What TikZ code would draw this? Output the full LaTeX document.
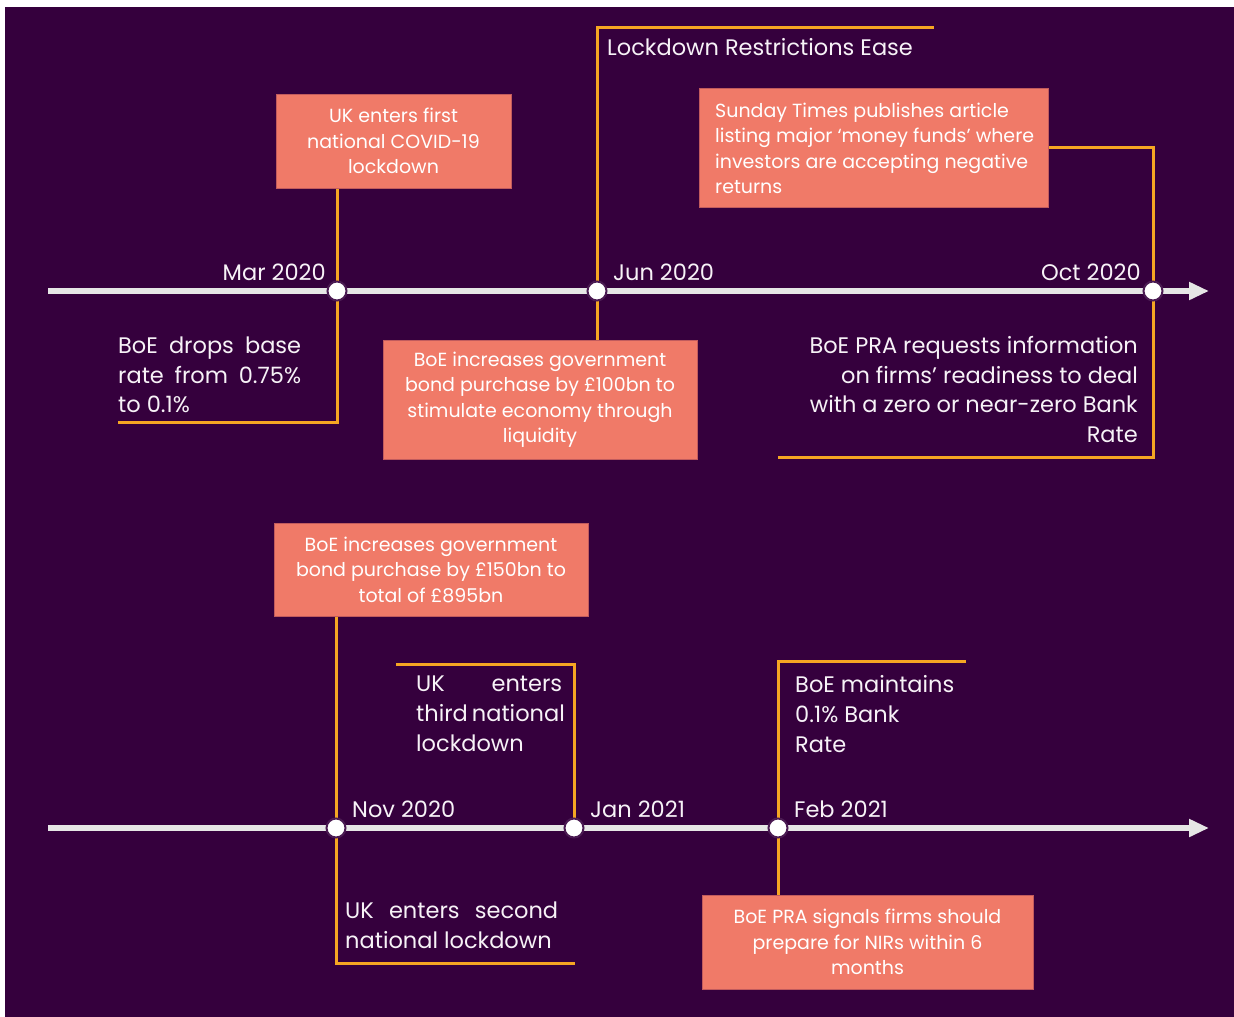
\documentclass[tikz,border=0pt]{standalone}
\usepackage{fontspec}
\setmainfont{Poppins}
\usetikzlibrary{arrows.meta}
\definecolor{bg}{HTML}{35003D}
\definecolor{salmon}{HTML}{F07A68}
\definecolor{amber}{HTML}{F5A623}
\definecolor{rail}{HTML}{E6E6E6}
\definecolor{ring}{HTML}{4A1A52}
\definecolor{txt}{HTML}{F7F2F7}
\begin{document}
\begin{tikzpicture}[x=1pt,y=-1pt,
  evbox/.style={fill=salmon, draw=salmon!75!bg, line width=1pt, text=white,
    font=\fontsize{19}{25.5}\selectfont, align=center, inner sep=0pt},
  plain/.style={text=txt, font=\fontsize{22.5}{29.8}\selectfont, inner sep=0pt},
  datelbl/.style={text=txt, font=\fontsize{22.5}{26}\selectfont, inner sep=0pt},
  conn/.style={draw=amber, line width=3pt},
  railline/.style={draw=rail, line width=6pt, -{Triangle[length=20pt,width=17pt]}},
  dot/.style={circle, fill=white, draw=ring, line width=2pt, minimum size=19pt, inner sep=0pt}]
\useasboundingbox (0,0) rectangle (1234,1017);
\fill[white] (0,0) rectangle (1234,1017);
\fill[bg] (5,7) rectangle (1234,1017);

% ---------- top row ----------
\node[evbox, minimum width=235pt, minimum height=94pt] (b1) at (393.5,141)
  {UK enters first\\national COVID-19\\lockdown};
\node[evbox, minimum width=314pt, minimum height=119pt] (b2) at (540,399.5)
  {BoE increases government\\bond purchase by £100bn to\\stimulate economy through\\liquidity};
\node[evbox, minimum width=349pt, minimum height=119pt] (b3) at (873.5,147.5) {};
\node[text=white, font=\fontsize{19}{25.5}\selectfont, align=left, inner sep=0pt, anchor=west] (b3t) at (715,148.5)
  {Sunday Times publishes article\\listing major ‘money funds’ where\\investors are accepting negative\\returns};

\coordinate (m1) at (337,291);
\coordinate (m2) at (597,291);
\coordinate (m3) at (1153,291);
\coordinate (rs) at (48,291);
\coordinate (re) at (1209,291);
\coordinate (t1) at (118,422);
\coordinate (j1) at (934,27);
\coordinate (o2) at (778,457);

\draw[conn] (b1.south -| m1) -- (m1 |- t1) -- (t1);
\draw[conn] (b2.north -| m2) -- (m2 |- j1) -- (j1);
\draw[conn] (b3.east) -| (m3 |- o2) -- (o2);

\draw[railline] (rs) -- (re);
\node[dot] (d1) at (m1) {};
\node[dot] (d2) at (m2) {};
\node[dot] (d3) at (m3) {};

\node[datelbl, anchor=east] (l1) at (326,272) {Mar 2020};
\node[datelbl, anchor=west] (l2) at (613,272) {Jun 2020};
\node[datelbl, anchor=east] (l3) at (1141,272) {Oct 2020};

\node[datelbl, anchor=west] (ease) at (607,47) {Lockdown Restrictions Ease};

\node[plain, anchor=west, align=left] (t1txt) at (118,375)
  {\makebox[183pt][s]{BoE drops base}\\\makebox[183pt][s]{rate from 0.75\%}\\to 0.1\%};
\node[plain, anchor=east, align=right] (t3txt) at (1138,389.5)
  {BoE PRA requests information\\on firms’ readiness to deal\\with a zero or near-zero Bank\\Rate};

% ---------- bottom row ----------
\node[evbox, minimum width=314pt, minimum height=93pt] (b4) at (431,569.5)
  {BoE increases government\\bond purchase by £150bn to\\total of £895bn};
\node[evbox, minimum width=331pt, minimum height=94pt] (b5) at (867.5,942)
  {BoE PRA signals firms should\\prepare for NIRs within 6\\months};

\coordinate (m4) at (336,828);
\coordinate (m5) at (574,828);
\coordinate (m6) at (778,828);
\coordinate (rs2) at (48,828);
\coordinate (re2) at (1209,828);
\coordinate (n2) at (575,963);
\coordinate (ja1) at (396,664);
\coordinate (f1) at (966,661);

\draw[conn] (b4.south -| m4) -- (m4 |- n2) -- (n2);
\draw[conn] (ja1) -| (m5);
\draw[conn] (f1) -| (b5.north -| m6);

\draw[railline] (rs2) -- (re2);
\node[dot] (d4) at (m4) {};
\node[dot] (d5) at (m5) {};
\node[dot] (d6) at (m6) {};

\node[datelbl, anchor=west] (l4) at (352,809) {Nov 2020};
\node[datelbl, anchor=west] (l5) at (590,809) {Jan 2021};
\node[datelbl, anchor=west] (l6) at (794,809) {Feb 2021};

\node[plain, anchor=west, align=left] (n2txt) at (345,925)
  {\makebox[213pt][s]{UK enters second}\\national lockdown};
\node[plain, anchor=west, align=left] (ja1txt) at (416,714)
  {\makebox[146pt][s]{UK enters}\\\makebox[146pt][s]{third national}\\lockdown};
\node[plain, anchor=west, align=left] (f1txt) at (795,714)
  {BoE maintains\\0.1\% Bank\\Rate};
\end{tikzpicture}
\end{document}
